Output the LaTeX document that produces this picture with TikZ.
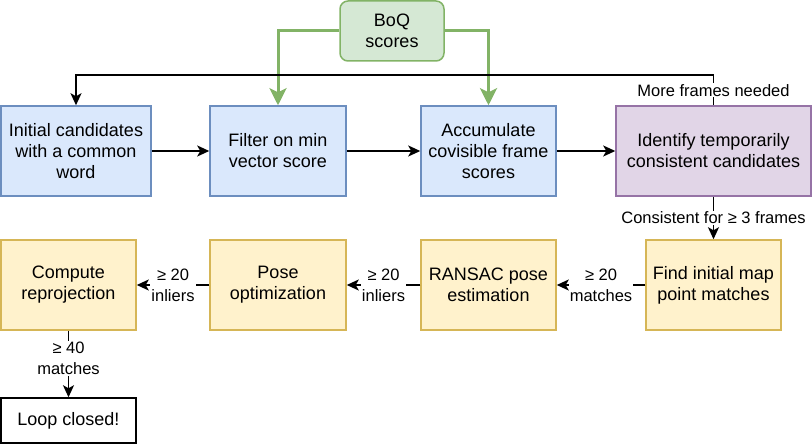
\documentclass[tikz,border=0pt]{standalone}
\usepackage{fontspec}
\setmainfont{Liberation Sans}
\usetikzlibrary{arrows.meta}
\definecolor{bluefill}{HTML}{DAE8FC}
\definecolor{bluedraw}{HTML}{6C8EBF}
\definecolor{purpfill}{HTML}{E1D5E7}
\definecolor{purpdraw}{HTML}{9673A6}
\definecolor{yelfill}{HTML}{FFF2CC}
\definecolor{yeldraw}{HTML}{D6B656}
\definecolor{grnfill}{HTML}{D5E8D4}
\definecolor{grndraw}{HTML}{82B366}
\newcommand{\nodefnt}{\fontsize{18}{21}\selectfont}
\newcommand{\lblfnt}{\fontsize{16.5}{21}\selectfont}
\begin{document}
\begin{tikzpicture}[x=1pt,y=-1pt,
  box/.style={draw, line width=1.5pt, minimum height=90pt, inner sep=0pt, align=center, font=\nodefnt},
  bluebox/.style={box, fill=bluefill, draw=bluedraw},
  purpbox/.style={box, fill=purpfill, draw=purpdraw},
  yelbox/.style={box, fill=yelfill, draw=yeldraw},
  conn/.style={line width=1.5pt, -{Stealth[length=12pt,width=11pt,inset=3pt]}},
  gconn/.style={line width=3pt, draw=grndraw, -{Stealth[length=17pt,width=17pt,inset=4pt]}},
  lbl/.style={fill=white, inner sep=1pt, align=center, font=\lblfnt}
]
\useasboundingbox (0,0) rectangle (812,444);
\node[bluebox, minimum width=150pt] (b1) at (76,151) {Initial candidates\\with a common\\word};
\node[bluebox, minimum width=136pt] (b2) at (278,151) {Filter on min\\vector score};
\node[bluebox, minimum width=135pt] (b3) at (488.5,151) {Accumulate\\covisible frame\\scores};
\node[purpbox, minimum width=195pt] (b4) at (713.5,151) {Identify temporarily\\consistent candidates};
\node[box, fill=grnfill, draw=grndraw, minimum width=104pt, minimum height=60pt, rounded corners=8pt] (boq) at (392,31) {BoQ\\scores};
\node[yelbox, minimum width=135pt] (find) at (713.5,285) {Find initial map\\point matches};
\node[yelbox, minimum width=135pt] (ransac) at (488.5,285) {RANSAC pose\\estimation};
\node[yelbox, minimum width=136pt] (pose) at (278,285) {Pose\\optimization};
\node[yelbox, minimum width=135pt] (comp) at (68.5,285) {Compute\\reprojection};
\node[box, fill=white, draw=black, minimum width=135pt, minimum height=45pt] (loop) at (68.5,420.5) {Loop closed!};

\draw[gconn] (boq.west) -| (b2.north);
\draw[gconn] (boq.east) -| (b3.north);

\coordinate (fb) at (713.5,75);
\draw[conn] (b4.north) -- node[lbl, pos=0.5] {More frames needed} (fb) -| (b1.north);

\draw[conn] (b1) -- (b2);
\draw[conn] (b2) -- (b3);
\draw[conn] (b3) -- (b4);

\draw[conn] (b4) -- node[lbl] {Consistent for ≥ 3 frames} (find);
\draw[conn] (find) -- node[lbl] {≥ 20\\matches} (ransac);
\draw[conn] (ransac) -- node[lbl] {≥ 20\\inliers} (pose);
\draw[conn] (pose) -- node[lbl] {≥ 20\\inliers} (comp);
\draw[conn] (comp) -- node[lbl, pos=0.42] {≥ 40\\matches} (loop);
\end{tikzpicture}
\end{document}
